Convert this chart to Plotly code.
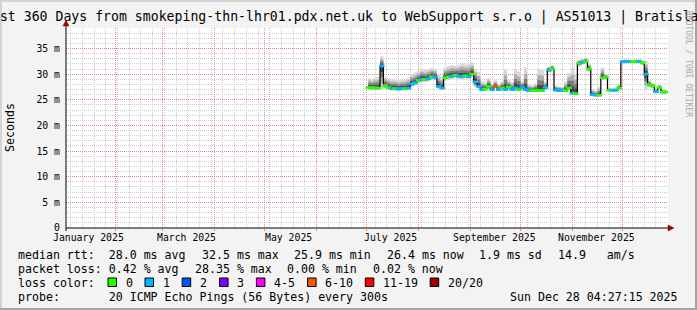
import plotly.graph_objects as go
import pandas as pd

# ---------------- data ----------------
first_sample = "2025-07-02"
sample_step = "2D"

median = [27.4, 27.4, 27.3, 27.3, 31.6, 27.8, 27.4, 27.2, 27.2, 27.1,
          27.2, 27.2, 27.3, 28.1, 28.3, 28.8, 29.0, 29.0, 29.1, 29.5,
          29.4, 27.6, 27.3, 29.3, 29.5, 29.6, 29.8, 29.6, 29.5, 29.7,
          29.5, 30.0, 28.5, 27.6, 27.0, 27.1, 27.6, 27.0, 27.6, 27.0,
          27.3, 27.0, 27.5, 27.0, 27.3, 27.0, 27.4, 27.0, 26.8, 26.8,
          26.8, 26.8, 26.8, 27.4, 30.8, 31.0, 26.9, 26.8, 26.8, 26.8,
          27.3, 26.3, 26.2, 32.1, 32.3, 32.5, 31.0, 26.0, 25.9, 25.9,
          29.3, 29.4, 26.85, 26.85, 26.85, 27.3, 32.4, 32.45, 32.45, 32.45,
          32.45, 32.45, 32.2, 30.0, 28.0, 27.7, 26.6, 27.4, 26.5, 26.5]

smoke_hi = [29.3, 29.0, 29.3, 29.5, 33.5, 29.5, 29.2, 29.0, 29.0, 28.8,
            28.9, 29.0, 29.3, 30.0, 30.3, 30.6, 31.0, 30.8, 31.0, 31.2,
            31.0, 29.8, 29.5, 31.3, 31.6, 31.8, 31.6, 31.8, 32.2, 31.9,
            32.0, 32.3, 31.0, 30.4, 28.6, 28.4, 29.2, 28.2, 28.8, 28.0,
            28.6, 31.0, 28.8, 28.4, 31.0, 30.5, 28.6, 31.3, 28.0, 27.8,
            28.2, 31.0, 30.8, 28.5, 31.5, 31.8, 27.8, 27.6, 27.5, 28.5,
            30.2, 31.3, 30.0, 32.8, 33.0, 33.2, 32.0, 27.0, 26.8, 27.5,
            31.3, 30.0, 27.4, 27.3, 27.4, 28.0, 32.8, 32.9, 32.8, 32.8,
            32.9, 32.9, 32.6, 32.6, 28.8, 28.2, 27.2, 28.0, 27.0, 27.0]

smoke_lo = [26.9, 26.9, 26.9, 26.9, 27.0, 27.2, 27.0, 26.8, 26.8, 26.7,
            26.8, 26.8, 26.9, 27.6, 27.8, 28.3, 28.5, 28.5, 28.6, 29.0,
            28.8, 27.2, 26.9, 28.8, 29.0, 29.1, 29.3, 29.1, 29.0, 29.2,
            29.1, 29.5, 27.5, 27.2, 26.7, 26.8, 27.0, 26.7, 27.2, 26.7,
            26.9, 26.7, 27.1, 26.7, 26.9, 26.7, 27.0, 26.7, 26.5, 26.5,
            26.5, 26.5, 26.5, 26.9, 30.3, 30.6, 26.6, 26.5, 26.5, 26.5,
            26.9, 26.0, 25.9, 31.5, 31.9, 32.1, 30.5, 25.7, 25.6, 25.6,
            28.9, 29.0, 26.6, 26.6, 26.6, 26.9, 32.1, 32.2, 32.2, 32.2,
            32.2, 32.2, 31.8, 27.0, 27.5, 27.3, 26.3, 27.0, 26.2, 26.2]

loss_bucket = [0, 0, 0, 0, 1, 0, 0, 1, 0, 1,
               1, 0, 1, 1, 1, 0, 1, 0, 1, 0,
               1, 1, 1, 0, 0, 1, 0, 1, 1, 0,
               1, 0, 1, 1, 1, 0, 0, 1, 5, 1,
               0, 1, 0, 1, 1, 0, 1, 1, 1, 0,
               0, 0, 0, 1, 1, 0, 1, 1, 1, 0,
               0, 1, 0, 0, 1, 0, 0, 1, 1, 0,
               0, 0, 0, 1, 1, 0, 1, 1, 1, 0,
               0, 1, 0, 1, 0, 0, 1, 0, 0, 0]

loss_colors = ["#26ff00", "#00b8ff", "#0059ff", "#7e00ff",
               "#ff00ff", "#ff5500", "#ff0000", "#a10000"]
loss_labels = ["0", "1", "2", "3", "4-5", "6-10", "11-19", "20/20"]

x_start = "2025-01-02 04:27:15"
x_end = "2025-12-28 04:27:15"
month_lines = ["2025-02-01", "2025-03-01", "2025-04-01", "2025-05-01",
               "2025-06-01", "2025-07-01", "2025-08-01", "2025-09-01",
               "2025-10-01", "2025-11-01", "2025-12-01"]
week_tick0 = "2025-01-05"
month_label_pos = ["2025-01-15 12:00", "2025-03-15 12:00", "2025-05-15 12:00",
                   "2025-07-15 12:00", "2025-09-15 12:00", "2025-11-15 12:00"]
month_label_text = ["January 2025", "March 2025", "May 2025",
                    "July 2025", "September 2025", "November 2025"]

ytick_vals = [0, 5, 10, 15, 20, 25, 30, 35]
ytick_text = ["0", "5 m", "10 m", "15 m", "20 m", "25 m", "30 m", "35 m"]
y_max = 39

title_text = ("Last 360 Days from smokeping-thn-lhr01.pdx.net.uk to "
              "WebSupport s.r.o | AS51013 | Bratislava")
rtt_items = ["median rtt:  28.0 ms avg", "32.5 ms max", "25.9 ms min",
             "26.4 ms now", "1.9 ms sd", "14.9   am/s"]
loss_items = ["packet loss: 0.42 % avg", "28.35 % max", "0.00 % min", "0.02 % now"]
probe_text = "probe:       20 ICMP Echo Pings (56 Bytes) every 300s"
stamp_text = "Sun Dec 28 04:27:15 2025"
watermark = "RRDTOOL / TOBI OETIKER"

# ---------------- geometry (pixels) ----------------
W, H = 697, 310
L, R, T, B = 66, 668, 28, 228
MONO = "DejaVu Sans Mono"


def px(x):
    return (x - L) / (R - L)


def py(y):
    return (B - y) / (B - T)


def nb(s):
    return s.replace(" ", "\u00a0")


dates = pd.date_range(first_sample, periods=len(median), freq=sample_step)

fig = go.Figure()

# smoke bands (outer light -> inner dark)
band_frac = [1.0, 0.72, 0.48, 0.26]
band_col = ["#d8d8d8", "#aeaeae", "#7c7c7c", "#4a4a4a"]
for f, c in zip(band_frac, band_col):
    lo = [m - (m - l) * f for m, l in zip(median, smoke_lo)]
    hi = [m + (h - m) * f for m, h in zip(median, smoke_hi)]
    fig.add_trace(go.Scatter(x=dates, y=lo, mode="lines", line=dict(width=0, shape="hvh"),
                             hoverinfo="skip"))
    fig.add_trace(go.Scatter(x=dates, y=hi, mode="lines", line=dict(width=0, shape="hvh"),
                             fill="tonexty", fillcolor=c, hoverinfo="skip"))

# median line
fig.add_trace(go.Scatter(x=dates, y=median, mode="lines",
                         line=dict(color="black", width=1.2, shape="hvh")))
# loss-coloured median segments
fig.add_trace(go.Scatter(x=dates, y=median, mode="markers",
                         marker=dict(symbol="line-ew", size=4,
                                     line=dict(width=2.6,
                                               color=[loss_colors[b] for b in loss_bucket]))))

grid_major = "rgba(225,110,110,0.75)"
grid_minor = "#cfcfcf"

fig.update_xaxes(type="date", range=[x_start, x_end],
                 tickmode="array", tickvals=month_lines, showticklabels=False,
                 ticks="outside", ticklen=2, tickcolor=grid_major,
                 showgrid=True, gridcolor=grid_major, gridwidth=1, griddash="1px,1px",
                 minor=dict(tick0=week_tick0, dtick=7 * 86400000, showgrid=True,
                            gridcolor=grid_minor, griddash="1px,1px", gridwidth=1),
                 zeroline=False, showline=False, fixedrange=True)
fig.update_yaxes(range=[0, y_max], tickmode="array", tickvals=ytick_vals, ticktext=ytick_text,
                 tickfont=dict(family=MONO, size=9.8, color="black"),
                 ticks="", ticklabelstandoff=5,
                 showgrid=True, gridcolor=grid_major, gridwidth=1, griddash="1px,1px",
                 minor=dict(dtick=1, showgrid=True, gridcolor=grid_minor,
                            griddash="1px,1px", gridwidth=1),
                 zeroline=False, showline=False, fixedrange=True)

shapes = []
# frame
shapes.append(dict(type="rect", xref="paper", yref="paper", x0=px(0), x1=px(W), y0=py(0), y1=py(2),
                   fillcolor="#d4d4d4", line=dict(width=0), layer="below"))
shapes.append(dict(type="rect", xref="paper", yref="paper", x0=px(0), x1=px(2), y0=py(0), y1=py(H),
                   fillcolor="#d4d4d4", line=dict(width=0), layer="below"))
shapes.append(dict(type="rect", xref="paper", yref="paper", x0=px(0), x1=px(W), y0=py(H - 2), y1=py(H),
                   fillcolor="#a4a4a4", line=dict(width=0), layer="below"))
shapes.append(dict(type="rect", xref="paper", yref="paper", x0=px(W - 2), x1=px(W), y0=py(0), y1=py(H),
                   fillcolor="#a4a4a4", line=dict(width=0), layer="below"))
# axes
shapes.append(dict(type="line", xref="paper", yref="paper", x0=px(L), x1=px(R + 1), y0=py(B), y1=py(B),
                   line=dict(color="black", width=1)))
shapes.append(dict(type="line", xref="paper", yref="paper", x0=px(L), x1=px(L), y0=py(B + 3), y1=py(T - 4),
                   line=dict(color="black", width=1)))


def tri(pts):
    d = "M " + " L ".join(f"{px(a)},{py(b)}" for a, b in pts) + " Z"
    return d


shapes.append(dict(type="path", xref="paper", yref="paper",
                   path=tri([(R, B - 3), (R, B + 3), (R + 6, B)]),
                   fillcolor="#a00000", line=dict(color="#a00000", width=0.5)))
shapes.append(dict(type="path", xref="paper", yref="paper",
                   path=tri([(L - 3, T - 2), (L + 3, T - 2), (L, T - 8)]),
                   fillcolor="#a00000", line=dict(color="#a00000", width=0.5)))

annotations = []
legend_font = dict(family=MONO, size=11.6, color="black")


def ann(text, x, y, anchor="left", font=legend_font, **kw):
    annotations.append(dict(text=nb(text), x=px(x), y=py(y), xref="paper", yref="paper",
                            xanchor=anchor, yanchor="middle", showarrow=False, font=font, **kw))


# title
ann(title_text, 348.5, 17, anchor="center", font=dict(family=MONO, size=13.2, color="black"))
# y title
ann("Seconds", 10, 128, anchor="center", font=dict(family=MONO, size=11.6, color="black"),
    textangle=-90)
# watermark
ann(watermark, 689, 64, anchor="center", font=dict(family=MONO, size=8, color="#a8a8a8"),
    textangle=90)
# month labels
for pos, txt in zip(month_label_pos, month_label_text):
    annotations.append(dict(text=nb(txt), x=pos, y=py(237.5), xref="x", yref="paper",
                            xanchor="center", yanchor="middle", showarrow=False,
                            font=dict(family=MONO, size=9.8, color="black")))

# legend rows
rtt_x = [16, 199.6, 292.2, 384.8, 477.4, 556]
for t, x in zip(rtt_items, rtt_x):
    ann(t, x, 254.5)
loss_x = [16, 192.6, 285.2, 370.8]
for t, x in zip(loss_items, loss_x):
    ann(t, x, 268.5)
ann("loss color:", 16, 282.5)
sw_x = [108, 145, 182.2, 219.6, 256.4, 307.6, 365.3, 430.2]
for c, lab, x in zip(loss_colors, loss_labels, sw_x):
    shapes.append(dict(type="rect", xref="paper", yref="paper",
                       x0=px(x), x1=px(x + 8.5), y0=py(286.5), y1=py(278),
                       fillcolor=c, line=dict(color="black", width=1)))
    ann(lab, x + 15.6, 282.5)
ann(probe_text, 16, 296.5)
ann(stamp_text, 680, 296.5, anchor="right")

fig.update_layout(width=W, height=H, margin=dict(l=L, r=W - R, t=T, b=H - B),
                  paper_bgcolor="#f3f3f3", plot_bgcolor="white", showlegend=False,
                  font=dict(family=MONO, size=10, color="black"),
                  shapes=shapes, annotations=annotations)

fig.write_html("out.html")
